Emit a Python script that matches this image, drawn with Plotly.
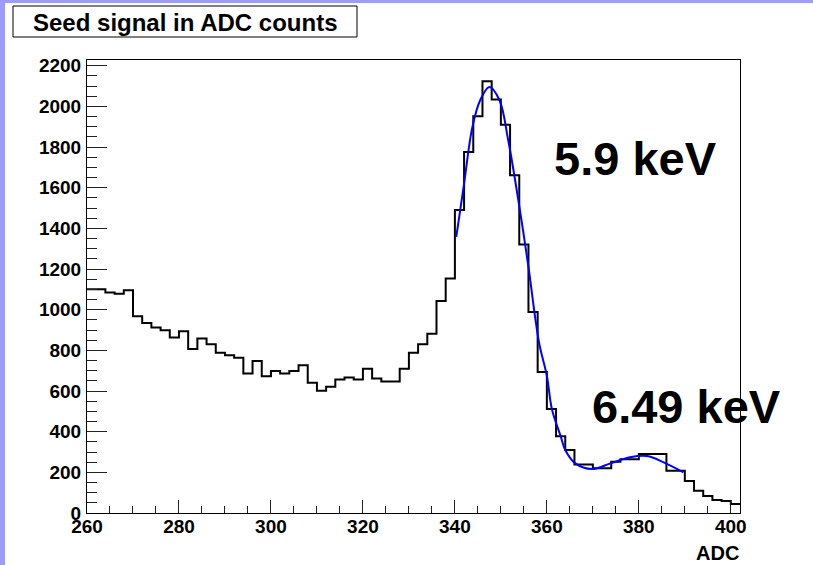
import plotly.graph_objects as go

# ---- data ----
bin_start = 260
bin_width = 2
counts = [1100, 1100, 1085, 1078, 1096, 968, 935, 912, 899, 863,
          894, 806, 858, 830, 788, 776, 763, 686, 747, 673,
          699, 686, 699, 727, 640, 601, 621, 657, 667, 657,
          709, 662, 647, 647, 709, 788, 830, 881, 1043, 1153,
          1490, 1775, 1951, 2123, 2034, 1910, 1661, 1320, 988, 694,
          512, 378, 310, 239, 239, 220, 220, 252, 264, 264,
          290, 290, 290, 208, 208, 157, 110, 84, 64, 59, 44]

fit_adc = [340.3, 341.9, 343.8, 345.5, 347.5, 349.7, 351.6, 353.8, 356.0, 357.5,
           358.4, 360.0, 361.1, 363.0, 364.0, 366.2, 369.8, 373.8, 378.1, 381.8,
           385.4, 389.7]
fit_counts = [1358, 1604, 1898, 2030, 2095, 2030, 1833, 1538, 1210, 955,
              826, 675, 510, 378, 310, 244, 216, 244, 274, 280,
              249, 200]

title_text = "Seed signal in ADC counts"
x_title = "ADC"
peak_labels = ["5.9 keV", "6.49 keV"]

# ---- geometry helpers (pixels -> paper) ----
W, H = 813, 565
L, R, T, B = 87, 73, 60, 52
PW, PH = W - L - R, H - T - B


def px(x):
    return (x - L) / PW


def py(y):
    return (H - B - y) / PH


edges = [bin_start + bin_width * i for i in range(len(counts) + 1)]
hist_y = counts + [counts[-1]]

FONT = "Liberation Sans, Arial, Helvetica, sans-serif"

fig = go.Figure()
fig.add_trace(go.Scatter(x=edges, y=hist_y, mode="lines", line_shape="hv",
                         line=dict(color="black", width=2), showlegend=False,
                         hoverinfo="skip"))
fig.add_trace(go.Scatter(x=fit_adc, y=fit_counts, mode="lines", line_shape="spline",
                         line=dict(color="#0000ff", width=2), showlegend=False))

fig.update_layout(
    width=W, height=H,
    margin=dict(l=L, r=R, t=T, b=B, pad=0),
    paper_bgcolor="white", plot_bgcolor="white",
    font=dict(family=FONT, color="black"),
    xaxis=dict(range=[260, 402], showgrid=False, zeroline=False,
               tickmode="linear", tick0=260, dtick=20,
               ticks="inside", ticklen=13, tickwidth=1, tickcolor="#222",
               minor=dict(tickmode="linear", dtick=5, ticks="inside", ticklen=7,
                          tickwidth=1, tickcolor="#222", showgrid=False),
               showline=True, linecolor="black", linewidth=1, mirror=True,
               tickfont=dict(family=FONT, size=19, weight="bold", color="black"),
               ticklabelstandoff=-4),
    yaxis=dict(range=[0, 2228], showgrid=False, zeroline=False,
               tickmode="linear", tick0=0, dtick=200,
               ticks="inside", ticklen=20, tickwidth=1, tickcolor="#222",
               minor=dict(tickmode="linear", dtick=50, ticks="inside", ticklen=10,
                          tickwidth=1, tickcolor="#222", showgrid=False),
               showline=True, linecolor="black", linewidth=1, mirror=True,
               tickfont=dict(family=FONT, size=19, weight="bold", color="black"),
               ticklabelstandoff=1),
)

# blue strips along top and left of canvas
strip = "#9c9cff"
fig.add_shape(type="rect", xref="paper", yref="paper", x0=px(0), x1=px(5),
              y0=py(H), y1=py(0), fillcolor=strip, line_width=0, layer="below")
fig.add_shape(type="rect", xref="paper", yref="paper", x0=px(0), x1=px(W),
              y0=py(3), y1=py(0), fillcolor=strip, line_width=0, layer="below")

# title box
fig.add_shape(type="rect", xref="paper", yref="paper", x0=px(13), x1=px(357),
              y0=py(37), y1=py(6), fillcolor="white",
              line=dict(color="black", width=1))
fig.add_annotation(xref="paper", yref="paper", x=px(185), y=py(22),
                   text=title_text, showarrow=False, xanchor="center", yanchor="middle",
                   font=dict(family=FONT, size=24, weight="bold", color="black"))

# axis title
fig.add_annotation(xref="paper", yref="paper", x=px(741), y=py(553),
                   text=x_title, showarrow=False, xanchor="right", yanchor="middle",
                   font=dict(family=FONT, size=20, weight="bold", color="black"))

# peak labels
fig.add_annotation(xref="paper", yref="paper", x=px(635), y=py(158),
                   text=peak_labels[0], showarrow=False, xanchor="center", yanchor="middle",
                   font=dict(family=FONT, size=47, weight="bold", color="black"))
fig.add_annotation(xref="paper", yref="paper", x=px(686), y=py(406),
                   text=peak_labels[1], showarrow=False, xanchor="center", yanchor="middle",
                   font=dict(family=FONT, size=47, weight="bold", color="black"))

fig.write_html("out.html")
